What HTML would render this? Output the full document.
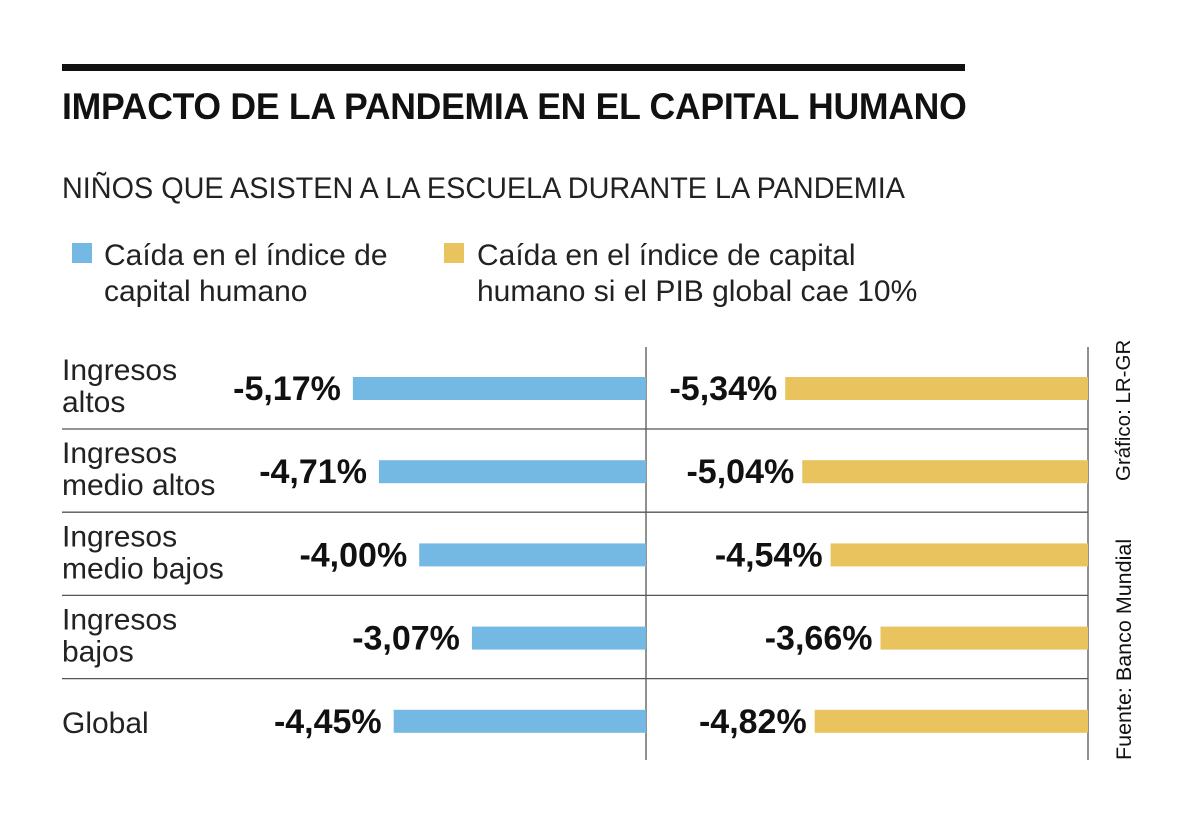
<!DOCTYPE html>
<html><head><meta charset="utf-8"><style>
body{margin:0;width:1200px;height:821px;background:#fff;font-family:"Liberation Sans",sans-serif;color:#111;position:relative;overflow:hidden}
.a{position:absolute;white-space:nowrap}
</style></head><body>
<div class="a" style="left:62px;top:64px;width:903px;height:7px;background:#111"></div>
<div class="a" style="left:62px;top:86px;font-size:37px;font-weight:bold;letter-spacing:-0.3px;transform:scaleX(0.962);transform-origin:0 0">IMPACTO DE LA PANDEMIA EN EL CAPITAL HUMANO</div>
<div class="a" style="left:62px;top:172px;font-size:30px;color:#222;transform:scaleX(0.96);transform-origin:0 0">NIÑOS QUE ASISTEN A LA ESCUELA DURANTE LA PANDEMIA</div>
<div class="a" style="left:72px;top:243px;width:20px;height:20px;background:#74b9e4"></div>
<div class="a" style="left:104px;top:238px;font-size:30px;line-height:36px;color:#222">Caída en el índice de<br>capital humano</div>
<div class="a" style="left:444px;top:243px;width:20px;height:20px;background:#e8c35e"></div>
<div class="a" style="left:477px;top:238px;font-size:30px;line-height:36px;color:#222">Caída en el índice de capital<br>humano si el PIB global cae 10%</div>
<svg class="a" style="left:0;top:0" width="1200" height="821" id="chart"></svg>
<div class="a" style="left:1112px;top:481px;font-size:20.5px;transform:rotate(-90deg);transform-origin:0 0">Gráfico: LR-GR</div>
<div class="a" style="left:1112px;top:760px;font-size:21.5px;transform:rotate(-90deg);transform-origin:0 0">Fuente: Banco Mundial</div>
<script>
const categories=[["Ingresos","altos"],["Ingresos","medio altos"],["Ingresos","medio bajos"],["Ingresos","bajos"],["Global"]];
const blueValues=[5.17,4.71,4.00,3.07,4.45];
const yellowValues=[5.34,5.04,4.54,3.66,4.82];
const blueLabels=["-5,17%","-4,71%","-4,00%","-3,07%","-4,45%"];
const yellowLabels=["-5,34%","-5,04%","-4,54%","-3,66%","-4,82%"];
const svg=document.getElementById('chart');const NS="http://www.w3.org/2000/svg";
const scale=56.7, blueZero=646, yellowZero=1088;
const rowY=i=>388+i*83.2;
function mk(t,a){const e=document.createElementNS(NS,t);for(const k in a)e.setAttribute(k,a[k]);svg.appendChild(e);return e;}
function line(x1,y1,x2,y2,n){const l=mk('line',{x1,y1,x2,y2,stroke:'#555','stroke-width':1.3});}
for(let i=0;i<4;i++){const y=rowY(i)+41;line(62,y,1088,y,'row-separator');}
line(646,347,646,760,'center-axis');line(1088,347,1088,760,'right-axis');
const ff='"Liberation Sans",sans-serif';
categories.forEach((c,i)=>{
 const y=rowY(i);
 const t=mk('text',{x:62,'font-size':30,'font-family':ff,fill:'#222'});
 
 if(c.length==2){c.forEach((s,j)=>{const ts=document.createElementNS(NS,'tspan');ts.setAttribute('x',62);ts.setAttribute('y',y-8+j*32);ts.textContent=s;t.appendChild(ts);});}
 else{t.setAttribute('y',y+12);t.textContent=c[0];}
 const bw=blueValues[i]*scale;
 const b=mk('rect',{x:blueZero-bw,y:y-11,width:bw,height:23,fill:'#74b9e4'});
 
 const bl=mk('text',{x:blueZero-bw-12,y:y+12,'font-size':34,'font-weight':'bold','font-family':ff,'text-anchor':'end',fill:'#111'});
 bl.textContent=blueLabels[i];
 const yw=yellowValues[i]*scale;
 const r=mk('rect',{x:yellowZero-yw,y:y-11,width:yw,height:23,fill:'#e8c35e'});
 
 const yl=mk('text',{x:yellowZero-yw-8,y:y+12,'font-size':34,'font-weight':'bold','font-family':ff,'text-anchor':'end',fill:'#111'});
 yl.textContent=yellowLabels[i];
});
</script>
</body></html>
